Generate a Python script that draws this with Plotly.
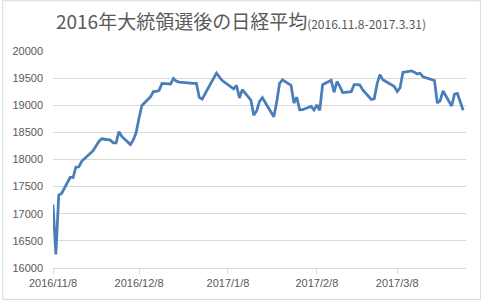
import plotly.graph_objects as go

dates = [
    "2016-11-08", "2016-11-09", "2016-11-10", "2016-11-11", "2016-11-14", "2016-11-15",
    "2016-11-16", "2016-11-17", "2016-11-18", "2016-11-21", "2016-11-22", "2016-11-24",
    "2016-11-25", "2016-11-28", "2016-11-29", "2016-11-30", "2016-12-01", "2016-12-02",
    "2016-12-05", "2016-12-06", "2016-12-07", "2016-12-08", "2016-12-09", "2016-12-12",
    "2016-12-13", "2016-12-14", "2016-12-15", "2016-12-16", "2016-12-19", "2016-12-20",
    "2016-12-21", "2016-12-22", "2016-12-26", "2016-12-27", "2016-12-28", "2016-12-29",
    "2016-12-30", "2017-01-04", "2017-01-05", "2017-01-06", "2017-01-10", "2017-01-11",
    "2017-01-12", "2017-01-13", "2017-01-16", "2017-01-17", "2017-01-18", "2017-01-19",
    "2017-01-20", "2017-01-23", "2017-01-24", "2017-01-25", "2017-01-26", "2017-01-27",
    "2017-01-30", "2017-01-31", "2017-02-01", "2017-02-02", "2017-02-03", "2017-02-06",
    "2017-02-07", "2017-02-08", "2017-02-09", "2017-02-10", "2017-02-13", "2017-02-14",
    "2017-02-15", "2017-02-16", "2017-02-17", "2017-02-20", "2017-02-21", "2017-02-22",
    "2017-02-23", "2017-02-24", "2017-02-27", "2017-02-28", "2017-03-01", "2017-03-02",
    "2017-03-03", "2017-03-06", "2017-03-07", "2017-03-08", "2017-03-09", "2017-03-10",
    "2017-03-13", "2017-03-14", "2017-03-15", "2017-03-16", "2017-03-17", "2017-03-21",
    "2017-03-22", "2017-03-23", "2017-03-24", "2017-03-27", "2017-03-28", "2017-03-29",
    "2017-03-30", "2017-03-31",
]

nikkei = [
    17171, 16252, 17344, 17375, 17673, 17668,
    17862, 17863, 17967, 18106, 18163, 18333,
    18381, 18357, 18307, 18308, 18513, 18426,
    18275, 18361, 18497, 18765, 18996, 19155,
    19251, 19254, 19274, 19401, 19392, 19495,
    19444, 19428, 19397, 19403, 19402, 19145,
    19114, 19594, 19521, 19454, 19301, 19365,
    19135, 19287, 19095, 18814, 18894, 19072,
    19138, 18891, 18788, 19058, 19402, 19467,
    19369, 19041, 19148, 18915, 18918, 18977,
    18911, 19008, 18908, 19379, 19459, 19239,
    19438, 19348, 19235, 19251, 19381, 19380,
    19371, 19284, 19107, 19119, 19394, 19565,
    19469, 19379, 19344, 19254, 19319, 19605,
    19634, 19610, 19577, 19590, 19522, 19456,
    19041, 19085, 19263, 18986, 19203, 19217,
    19063, 18909,
]

x_tick_dates = ["2016-11-08", "2016-12-08", "2017-01-08", "2017-02-08", "2017-03-08"]
x_tick_labels = ["2016/11/8", "2016/12/8", "2017/1/8", "2017/2/8", "2017/3/8"]

title_main = "2016年大統領選後の日経平均"
title_sub = "(2016.11.8-2017.3.31)"

grey = "#595959"
grid = "#d9d9d9"

fig = go.Figure()
fig.add_trace(go.Scatter(
    x=dates, y=nikkei, mode="lines",
    line=dict(color="#4a7ebb", width=2.75),
    hoverinfo="x+y",
))

fig.update_layout(
    width=482, height=301,
    margin=dict(l=51, r=16, t=51, b=32),
    paper_bgcolor="white", plot_bgcolor="white",
    showlegend=False,
    title=dict(
        text=f"{title_main}<span style='font-size:12px'>{title_sub}</span>",
        x=0.5, xanchor="center", xref="container",
        y=0.925, yanchor="middle", yref="container",
        font=dict(family="Noto Sans CJK JP", size=19, color=grey),
    ),
    xaxis=dict(
        type="date",
        range=["2016-11-08", "2017-04-01"],
        tickvals=x_tick_dates, ticktext=x_tick_labels,
        showgrid=False, zeroline=False,
        showline=True, linecolor=grid, linewidth=1,
        ticks="outside", ticklen=5, tickcolor=grid, tickwidth=1,
        tickfont=dict(family="Liberation Sans", size=11, color=grey),
        fixedrange=True,
    ),
    yaxis=dict(
        range=[16000, 20000], dtick=500, tick0=16000,
        tickformat="d",
        showgrid=True, gridcolor=grid, gridwidth=1,
        zeroline=False, showline=False, ticks="",
        ticklabelstandoff=9,
        tickfont=dict(family="Liberation Sans", size=11, color=grey),
        fixedrange=True,
    ),
    shapes=[dict(
        type="rect", xref="paper", yref="paper",
        x0=(0.5 - 51) / 415, x1=(480.5 - 51) / 415,
        y0=(269 - 300.5) / 218, y1=(269 - 0.5) / 218,
        line=dict(color=grid, width=1), fillcolor="rgba(0,0,0,0)",
        layer="below",
    )],
)

fig.write_html("out.html")
